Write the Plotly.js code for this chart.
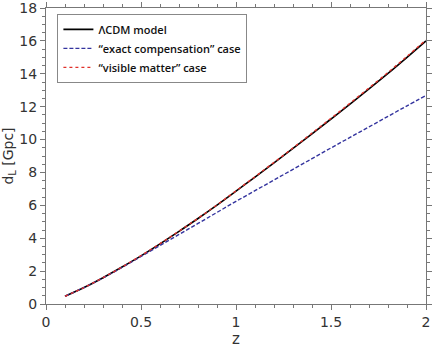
<!DOCTYPE html>
<html>
<head>
<meta charset="utf-8">
<script src="https://cdn.plot.ly/plotly-3.0.1.min.js"></script>
<style>
	html, body {margin: 0; padding: 0; background: white;}
	#chart {width: 436px; height: 349px;}
</style>
</head>
<body>
<div id="chart"></div>
<script>
// redshift grid and luminosity distances (Gpc)
const zValues = [0.1, 0.2, 0.3, 0.4, 0.5, 0.6, 0.7, 0.8, 0.9, 1.0,
	1.1, 1.2, 1.3, 1.4, 1.5, 1.6, 1.7, 1.8, 1.9, 2.0];
const lcdmDl = [0.47, 1.00, 1.60, 2.25, 2.93, 3.66, 4.42, 5.20, 6.01, 6.86,
	7.72, 8.58, 9.46, 10.35, 11.25, 12.16, 13.08, 14.02, 15.00, 16.00];
const exactDl = [0.47, 1.00, 1.59, 2.22, 2.89, 3.56, 4.23, 4.90, 5.57, 6.24,
	6.89, 7.54, 8.19, 8.84, 9.49, 10.13, 10.77, 11.41, 12.05, 12.68];
const visibleDl = [0.47, 1.00, 1.60, 2.25, 2.94, 3.67, 4.43, 5.21, 6.03, 6.88,
	7.74, 8.61, 9.49, 10.39, 11.29, 12.21, 13.14, 14.08, 15.06, 16.06];
const seriesNames = ["ΛCDM model", "“exact compensation” case", "“visible matter” case"];
const xTicks = [0, 0.5, 1, 1.5, 2];
const yTicks = [0, 2, 4, 6, 8, 10, 12, 14, 16, 18];

function drawChart() {
	const traces = [
		{x: zValues, y: lcdmDl, name: seriesNames[0], type: "scatter", mode: "lines",
			line: {color: "#000000", width: 1.6, shape: "spline"}},
		{x: zValues, y: exactDl, name: seriesNames[1], type: "scatter", mode: "lines",
			line: {color: "#33339e", width: 1.4, dash: "4px,2px", shape: "spline"}},
		{x: zValues, y: visibleDl, name: seriesNames[2], type: "scatter", mode: "lines",
			line: {color: "#e0302a", width: 1.4, dash: "dot", shape: "spline"}}
	];

	const axisCommon = {
		showgrid: false,
		zeroline: false,
		showline: true,
		linecolor: "#777",
		linewidth: 1,
		mirror: "ticks",
		ticks: "outside",
		ticklen: 5,
		tickcolor: "#777",
		ticklabeloverflow: "allow",
		tickfont: {family: "DejaVu Sans", size: 14, color: "#333"}
	};

	const layout = {
		width: 436,
		height: 349,
		margin: {l: 46, r: 10, t: 8, b: 45},
		paper_bgcolor: "white",
		plot_bgcolor: "white",
		showlegend: true,
		xaxis: Object.assign({}, axisCommon, {
			range: [0, 2],
			tickvals: xTicks,
			ticktext: xTicks.map(String),
			minor: {dtick: 0.1, ticks: "outside", ticklen: 3, tickcolor: "#777"},
			title: {text: "z", font: {family: "DejaVu Sans", size: 15, color: "#333"}, standoff: 2}
		}),
		yaxis: Object.assign({}, axisCommon, {
			range: [0, 18],
			tickvals: yTicks,
			ticktext: yTicks.map(String),
			minor: {dtick: 0.5, ticks: "outside", ticklen: 3, tickcolor: "#777"},
			title: {text: "d<sub>L</sub> [Gpc]", font: {family: "DejaVu Sans", size: 14, color: "#333"}, standoff: 6}
		}),
		legend: {
			x: 0.03, y: 0.98,
			xanchor: "left", yanchor: "top",
			bgcolor: "white",
			bordercolor: "#888",
			borderwidth: 1,
			itemwidth: 30,
			tracegroupgap: 0,
			font: {family: "Open Sans", size: 11, color: "#111", weight: 600}
		}
	};

	Plotly.newPlot("chart", traces, layout, {displayModeBar: false, staticPlot: true});
}

window.addEventListener("DOMContentLoaded", drawChart);
</script>
</body>
</html>
